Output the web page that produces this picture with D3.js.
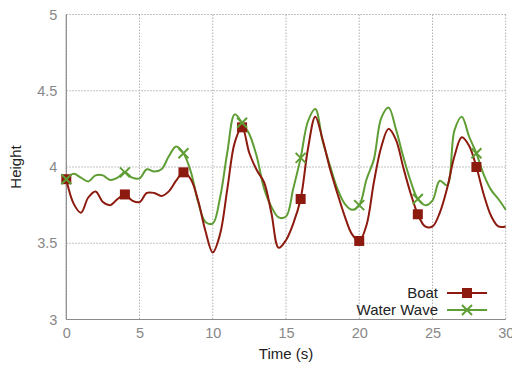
<!DOCTYPE html>
<html><head><meta charset="utf-8">
<script src="https://cdn.jsdelivr.net/npm/d3@7"></script>
<style>body{margin:0;background:#fff}svg{display:block}text{font-family:"Liberation Sans",Arial,sans-serif}</style>
</head><body><svg id="c" width="512" height="367"></svg>
<script>
const times = d3.range(0, 30.01, 0.5);
const boat = [3.92,3.76,3.70,3.80,3.84,3.77,3.75,3.79,3.82,3.78,3.77,3.83,3.83,3.81,3.84,3.91,3.965,3.92,3.78,3.58,3.44,3.56,3.86,4.16,4.26,4.09,3.98,3.90,3.70,3.47,3.52,3.63,3.79,4.12,4.33,4.18,3.99,3.83,3.68,3.56,3.515,3.62,3.90,4.13,4.25,4.18,4.00,3.83,3.69,3.61,3.61,3.70,3.86,4.07,4.195,4.14,4.00,3.82,3.68,3.61,3.61];
const wave = [3.92,3.955,3.93,3.905,3.945,3.945,3.915,3.93,3.965,3.93,3.925,3.985,3.97,3.985,4.07,4.135,4.09,3.97,3.77,3.64,3.63,3.80,4.10,4.345,4.29,4.215,4.07,3.86,3.74,3.67,3.675,3.86,4.06,4.30,4.38,4.17,4.01,3.86,3.76,3.72,3.75,3.92,4.05,4.32,4.39,4.25,4.07,3.91,3.79,3.75,3.78,3.91,3.88,4.24,4.33,4.20,4.09,3.95,3.85,3.79,3.72];
const markerEvery = 8;
const xTicks = [0,5,10,15,20,25,30];
const yTicks = [3,3.5,4,4.5,5];
const seriesNames = ["Boat","Water Wave"];

const svg = d3.select("#c");
const L=66.3, R=505.7, T=14.5, B=319.5;
const x = d3.scaleLinear().domain([0,30]).range([L,R]);
const y = d3.scaleLinear().domain([3,5]).range([B,T]);
const red="#8c1a0f", green="#5f9e35", grid="#b0b0b0", axisc="#8a8a8a";

// grid
const g = svg.append("g");
xTicks.forEach(t=>{ g.append("line").attr("x1",x(t)).attr("x2",x(t)).attr("y1",T).attr("y2",B)
  .attr("stroke",grid).attr("stroke-width",1).attr("stroke-dasharray","1.5,1.5"); });
yTicks.forEach(t=>{ g.append("line").attr("x1",L).attr("x2",R).attr("y1",y(t)).attr("y2",y(t))
  .attr("stroke",grid).attr("stroke-width",1).attr("stroke-dasharray","1.5,1.5"); });
// axes
svg.append("line").attr("x1",L).attr("x2",L).attr("y1",T).attr("y2",B).attr("stroke",axisc).attr("stroke-width",1.2);
svg.append("line").attr("x1",L).attr("x2",R).attr("y1",B).attr("y2",B).attr("stroke",axisc).attr("stroke-width",1.2);

const xa = svg.append("g").attr("transform",`translate(0,${B})`).call(d3.axisBottom(x).tickValues(xTicks).tickSize(0).tickPadding(8).tickFormat(d3.format("d")));
xa.select(".domain").remove();
xa.selectAll("text").attr("fill","#888").style("font-size","14.5px");
const ya = svg.append("g").attr("transform",`translate(${L},0)`).call(d3.axisLeft(y).tickValues(yTicks).tickSize(0).tickPadding(9).tickFormat(d=>String(d)));
ya.select(".domain").remove();
ya.selectAll("text").attr("fill","#888").style("font-size","14.5px");

svg.append("text").attr("x",(L+R)/2).attr("y",359).attr("text-anchor","middle").attr("fill","#222").style("font-size","15px").text("Time (s)");
svg.append("text").attr("transform",`translate(21,${(T+B)/2}) rotate(-90)`).attr("text-anchor","middle").attr("fill","#222").style("font-size","15px").text("Height");

const line = d3.line().x((d,i)=>x(times[i])).y(d=>y(d)).curve(d3.curveCatmullRom.alpha(0.5));
svg.append("path").datum(wave).attr("d",line).attr("fill","none").attr("stroke",green).attr("stroke-width",2);
svg.append("path").datum(boat).attr("d",line).attr("fill","none").attr("stroke",red).attr("stroke-width",2);

const idx = d3.range(0, times.length-1, markerEvery);
svg.selectAll(".sq").data(idx).join("rect").attr("x",i=>x(times[i])-5).attr("y",i=>y(boat[i])-5).attr("width",10).attr("height",10).attr("fill",red);
const cross = (sel, cx, cy, s, col)=>{ sel.append("path").attr("d",`M${cx-s},${cy-s}L${cx+s},${cy+s}M${cx-s},${cy+s}L${cx+s},${cy-s}`).attr("stroke",col).attr("stroke-width",2).attr("fill","none"); };
idx.forEach(i=>cross(svg, x(times[i]), y(wave[i]), 5, green));

// legend
const lg = svg.append("g");
const ly=[293,310];
lg.append("text").attr("x",438).attr("y",ly[0]+5).attr("text-anchor","end").attr("fill","#222").style("font-size","15px").text(seriesNames[0]);
lg.append("text").attr("x",438).attr("y",ly[1]+5).attr("text-anchor","end").attr("fill","#222").style("font-size","15px").text(seriesNames[1]);
lg.append("line").attr("x1",447).attr("x2",487).attr("y1",ly[0]).attr("y2",ly[0]).attr("stroke",red).attr("stroke-width",2);
lg.append("rect").attr("x",467-5).attr("y",ly[0]-5).attr("width",10).attr("height",10).attr("fill",red);
lg.append("line").attr("x1",447).attr("x2",487).attr("y1",ly[1]).attr("y2",ly[1]).attr("stroke",green).attr("stroke-width",2);
cross(lg,467,ly[1],5,green);
</script></body></html>
